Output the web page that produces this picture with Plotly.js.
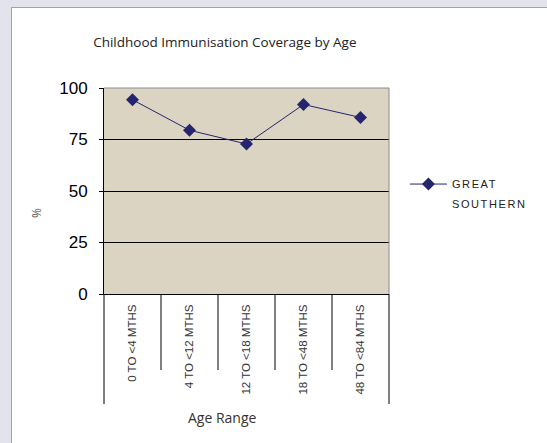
<!DOCTYPE html>
<html><head><meta charset="utf-8">
<script src="https://cdn.plot.ly/plotly-3.0.1.min.js"></script>
<style>
html,body{margin:0;padding:0;width:547px;height:443px;overflow:hidden;background:#e3e3ee;}
#panel{position:absolute;left:11px;top:7px;width:540px;height:440px;background:#fff;border-left:1px solid #a2a2ad;border-top:1px solid #a2a2ad;}
#chart{position:absolute;left:0;top:0;width:547px;height:443px;}
</style></head>
<body>
<div id="panel"></div>
<div id="chart"></div>
<script>
const categories = ["0 TO <4 MTHS","4 TO <12 MTHS","12 TO <18 MTHS","18 TO <48 MTHS","48 TO <84 MTHS"];
const greatSouthern = [94.3, 79.5, 72.8, 92.0, 85.7];
const yTicks = [0, 25, 50, 75, 100];
const seriesName = "GREAT<br>SOUTHERN";

const shapes = [];
for (let i = 0; i < categories.length - 1; i++) {
  shapes.push({type:'line', xref:'x', yref:'paper', x0:i+0.5, x1:i+0.5, y0:0, y1:-0.369, line:{color:'#000', width:1}});
}
shapes.push({type:'line', xref:'paper', yref:'paper', x0:0, x1:0, y0:0, y1:-0.534, line:{color:'#000', width:1}});
shapes.push({type:'line', xref:'paper', yref:'paper', x0:1, x1:1, y0:0, y1:-0.534, line:{color:'#000', width:1}});
shapes.push({type:'line', xref:'paper', yref:'paper', x0:0, x1:1, y0:1, y1:1, line:{color:'#8a8a8a', width:1}, layer:'above'});
shapes.push({type:'line', xref:'paper', yref:'paper', x0:1, x1:1, y0:0, y1:1, line:{color:'#8a8a8a', width:1}, layer:'above'});

const trace = {
  type:'scatter', mode:'lines+markers', x:categories, y:greatSouthern, name:seriesName,
  line:{color:'#25256f', width:1},
  marker:{symbol:'diamond', size:10, color:'#25256f'}
};

const layout = {
  width:547, height:443,
  margin:{l:104, r:158, t:88, b:149, pad:0},
  paper_bgcolor:'rgba(0,0,0,0)', plot_bgcolor:'#dbd4c3',
  font:{family:'Liberation Sans, Arial, sans-serif', color:'#000'},
  title:{text:'Childhood Immunisation Coverage by Age', xref:'container', yref:'container', x:0.411, xanchor:'center', y:1-42/443, yanchor:'middle',
         font:{family:'Open Sans, sans-serif', size:13.5, color:'#222'}},
  xaxis:{type:'category', range:[-0.5, categories.length-0.5], showline:true, linecolor:'#000', linewidth:1,
         ticks:'', showgrid:false, zeroline:false, tickangle:-90, ticklabelstandoff:5,
         tickfont:{family:'Liberation Sans, Arial, sans-serif', size:11.5, color:'#333'}},
  yaxis:{range:[0,100], tickvals:yTicks, ticktext:yTicks.map(String), showline:true, linecolor:'#000', linewidth:1,
         ticks:'outside', ticklen:4, tickcolor:'#000', showgrid:true, gridcolor:'#000', gridwidth:1, zeroline:false,
         ticklabelstandoff:8, tickfont:{family:'Liberation Sans, Arial, sans-serif', size:17, color:'#000'}},
  showlegend:true,
  legend:{x:1.056, xanchor:'left', y:0.6, yanchor:'top', valign:'top', bgcolor:'rgba(0,0,0,0)', entrywidth:130,
          font:{family:'Liberation Sans, Arial, sans-serif', size:11, color:'#222'}, itemwidth:37},
  annotations:[
    {text:'Age Range', xref:'paper', yref:'paper', x:(222-104)/285, y:(294-417)/206, xanchor:'center', yanchor:'middle', showarrow:false,
     font:{family:'Open Sans, sans-serif', size:14, color:'#333'}},
    {text:'%', xref:'paper', yref:'paper', x:(36-104)/285, y:(294-213)/206, xanchor:'center', yanchor:'middle', showarrow:false, textangle:-90,
     font:{family:'Open Sans, sans-serif', size:12, color:'#555'}}
  ],
  shapes:shapes
};

Plotly.newPlot('chart', [trace], layout, {displayModeBar:false, staticPlot:true}).then(function(){
  document.querySelectorAll('.legendtext').forEach(function(t){
    t.style.letterSpacing='1.6px';
    t.querySelectorAll('tspan.line').forEach(function(s, i){ if (i > 0) s.setAttribute('dy', '1.8em'); });
  });
  document.querySelectorAll('.legend [clip-path]').forEach(function(n){ n.removeAttribute('clip-path'); });
});
</script>
</body></html>
